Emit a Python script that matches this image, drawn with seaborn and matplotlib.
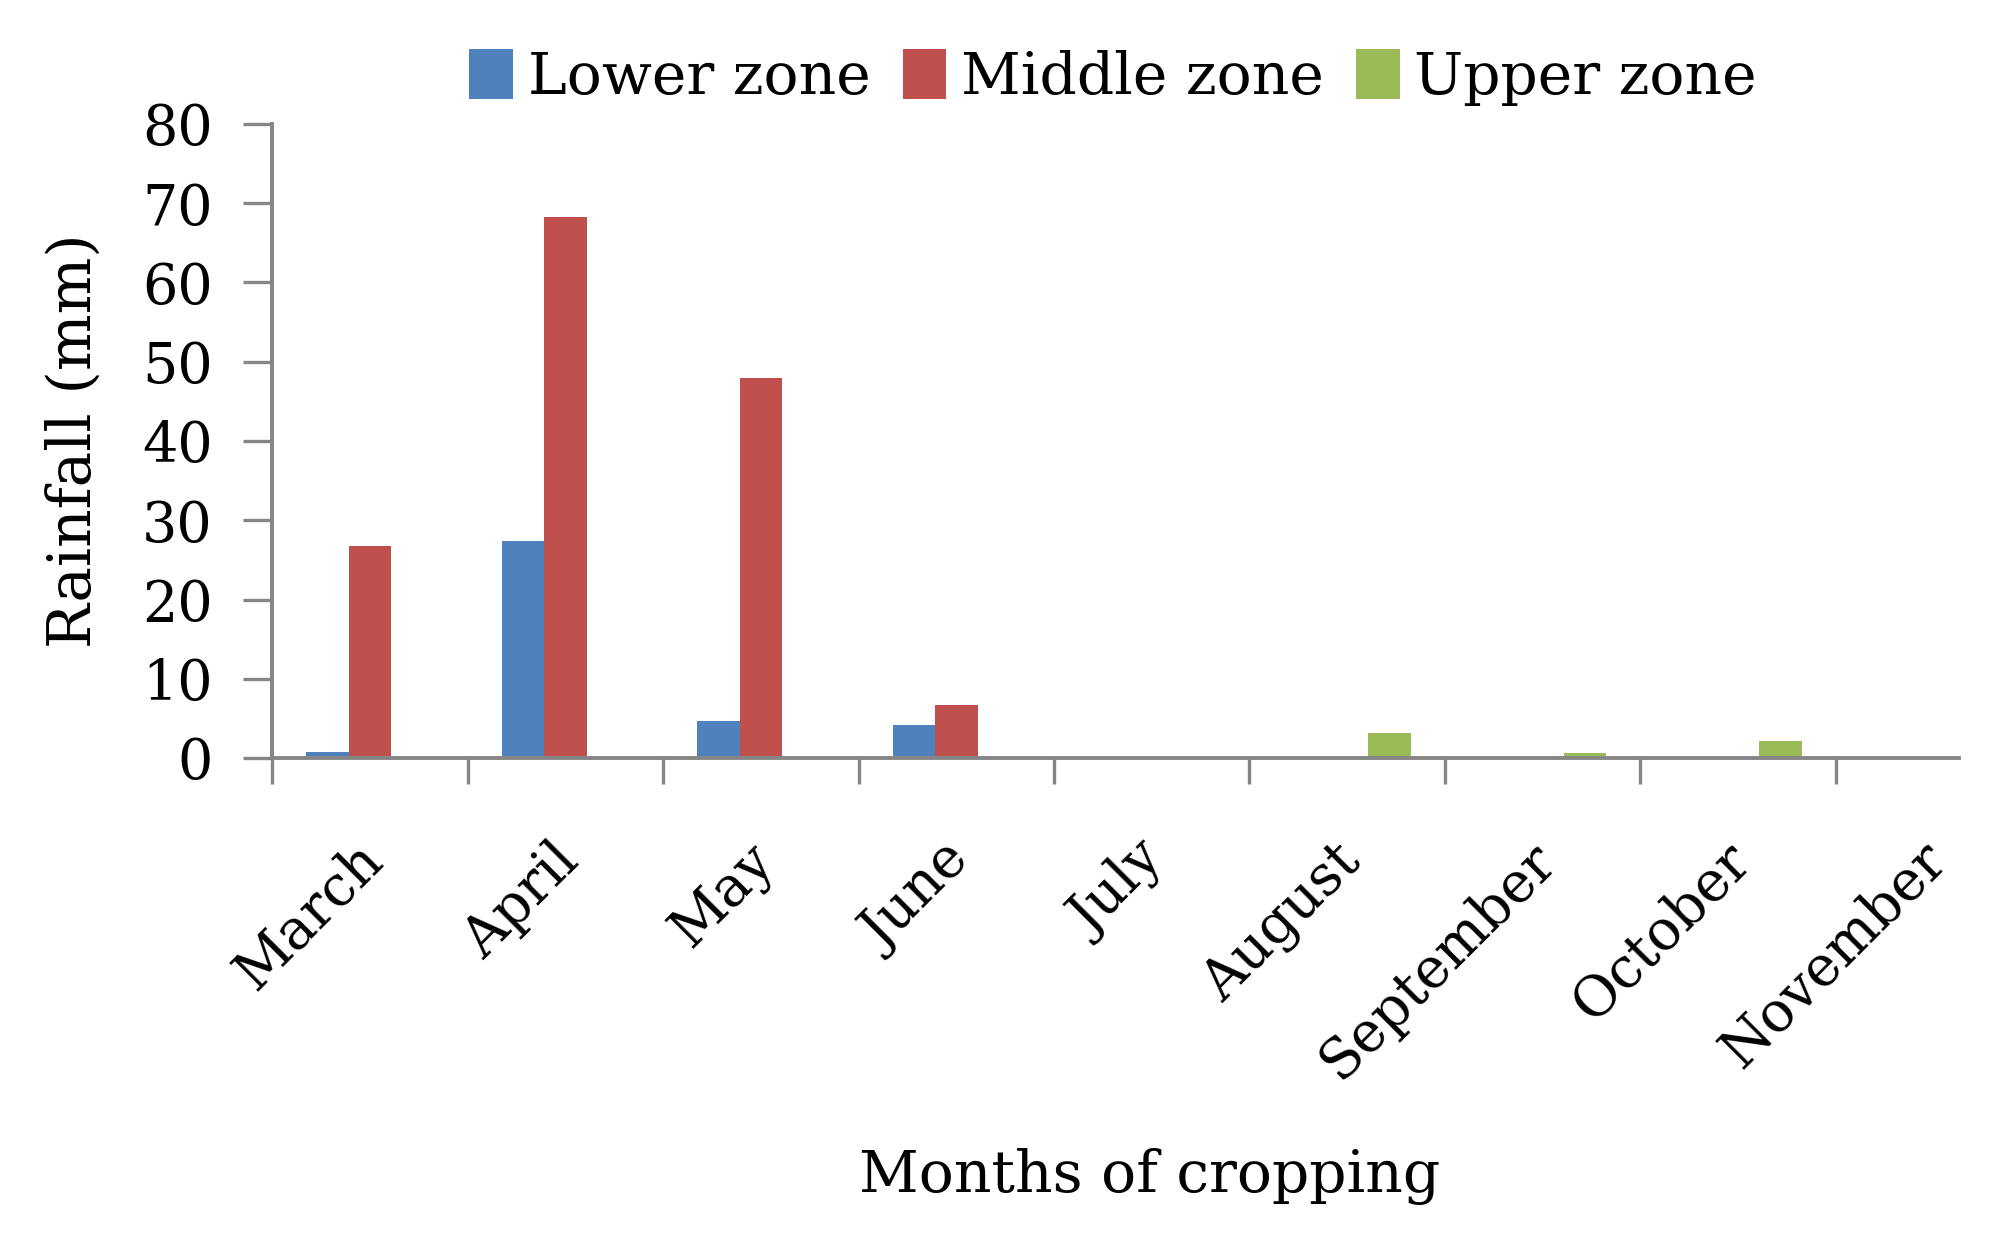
import matplotlib
matplotlib.use("Agg")
import matplotlib.pyplot as plt
import matplotlib.transforms as mtransforms
import seaborn as sns
import pandas as pd
from matplotlib.patches import Patch
from matplotlib.ticker import FixedLocator

months = ["March", "April", "May", "June", "July", "August",
          "September", "October", "November"]
zones = ["Lower zone", "Middle zone", "Upper zone"]
lower = [0.7, 27.4, 4.7, 4.2, 0, 0, 0, 0, 0]
middle = [26.8, 68.2, 48.0, 6.7, 0, 0, 0, 0, 0]
upper = [0, 0, 0, 0, 0, 3.1, 0.6, 2.2, 0]
y_ticks = [0, 10, 20, 30, 40, 50, 60, 70, 80]

colors = ["#4F81BD", "#C0504D", "#9BBB59"]

rows = []
for zone, vals in zip(zones, [lower, middle, upper]):
    for m, v in zip(months, vals):
        rows.append({"Month": m, "Zone": zone, "Rainfall": v})
df = pd.DataFrame(rows)

sns.set_style("white")
plt.rcParams["font.family"] = ["DejaVu Serif"]
plt.rcParams["text.color"] = "black"
plt.rcParams["axes.labelcolor"] = "black"
plt.rcParams["xtick.color"] = "black"
plt.rcParams["ytick.color"] = "black"

fig = plt.figure(figsize=(20.02, 12.36), dpi=100)
ax = fig.add_axes([0.136, 0.3867, 0.8425, 0.513])

sns.barplot(data=df, x="Month", y="Rainfall", hue="Zone", order=months,
            hue_order=zones, palette=colors, width=0.65, ax=ax,
            linewidth=0, saturation=1, legend=False)

grey = "#868686"
ax.set_ylim(0, 80)
ax.set_xlim(-0.5, 8.13)
ax.set_yticks(y_ticks)
ax.set_yticklabels([str(t) for t in y_ticks], fontsize=40)
for s in ["top", "right"]:
    ax.spines[s].set_visible(False)
for s in ["left", "bottom"]:
    ax.spines[s].set_color(grey)
    ax.spines[s].set_linewidth(2.8)

ax.tick_params(axis="y", which="major", left=True, length=21, width=2.4,
               color=grey, labelcolor="black", pad=22, labelsize=40)
ax.set_xticks(range(len(months)))
ax.set_xticklabels(months, rotation=45, ha="right", fontsize=40)
ax.tick_params(axis="x", which="major", bottom=True, length=0, pad=54,
               labelcolor="black")
ax.xaxis.set_minor_locator(FixedLocator([i - 0.5 for i in range(len(months))]))
ax.tick_params(axis="x", which="minor", bottom=True, length=19, width=2.4,
               color=grey)

offset = mtransforms.ScaledTranslation(24 / 100, 0, fig.dpi_scale_trans)
for lab in ax.get_xticklabels():
    lab.set_transform(lab.get_transform() + offset)

ax.set_xlabel("Months of cropping", fontsize=42, labelpad=42, x=0.52)
ax.set_ylabel("Rainfall (mm)", fontsize=43, labelpad=28)

handles = [Patch(facecolor=c, edgecolor="none", label=z) for c, z in zip(colors, zones)]
fig.legend(handles=handles, loc="upper center", bbox_to_anchor=(0.556, 1.003),
           ncol=3, frameon=False, fontsize=42, handlelength=0.75,
           handleheight=0.95, handletextpad=0.25, columnspacing=0.55)

fig.savefig("out.png", dpi=100, facecolor="white")
